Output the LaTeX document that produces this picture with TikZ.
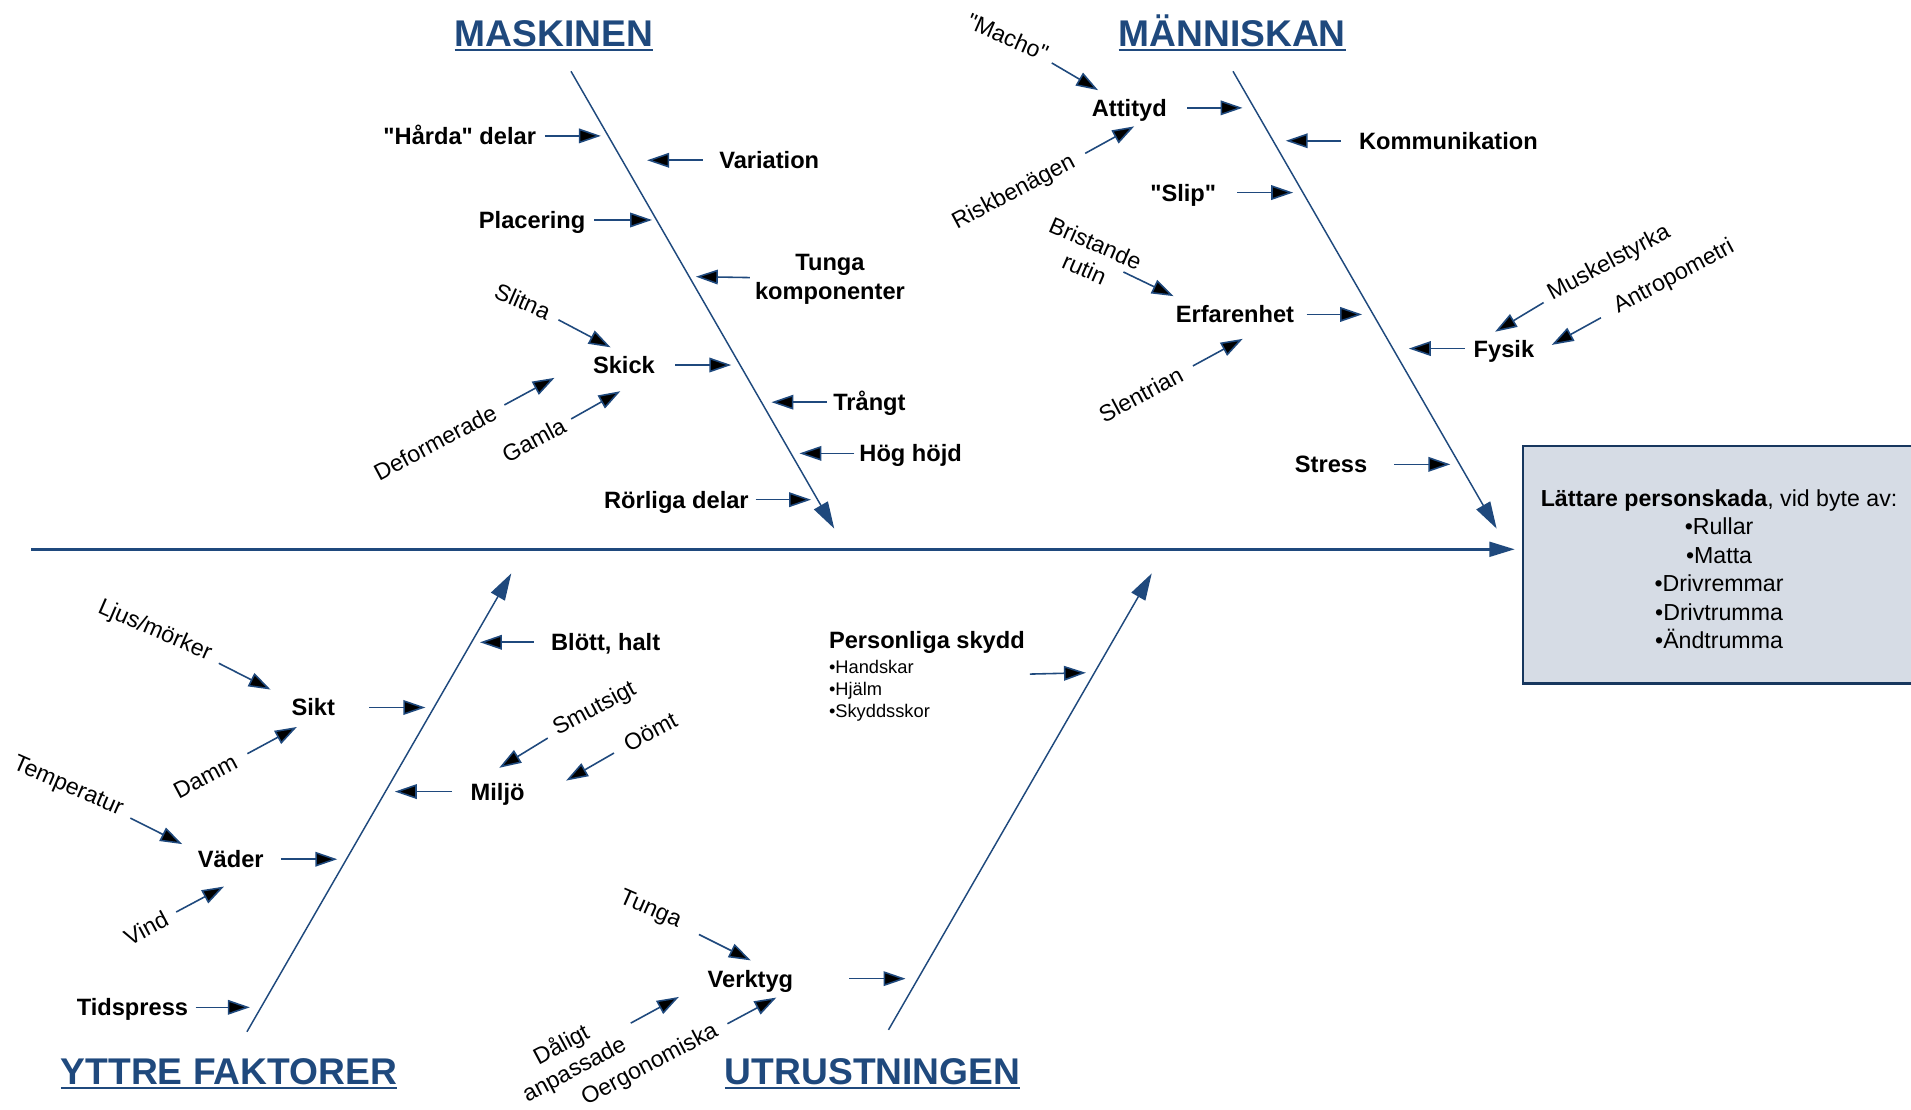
\documentclass[tikz,border=0pt]{standalone}
\usepackage{fontspec}
\setmainfont{Liberation Sans}[Ligatures=TeXOff]
\usetikzlibrary{arrows.meta}
\definecolor{fishblue}{RGB}{31,73,125}
\definecolor{effectfill}{RGB}{214,220,229}
\definecolor{effectline}{RGB}{23,55,94}
\newcommand{\catline}[1]{\setbox0\hbox{#1}\rlap{\rule[-4pt]{\wd0}{2pt}}\box0}
\tikzset{
  category/.style={font=\fontsize{30.5}{36}\selectfont\bfseries, text=fishblue, inner sep=0pt, anchor=base},
  causefont/.style={font=\fontsize{19.4}{24}\selectfont\bfseries, inner sep=0pt},
  cause/.style={causefont, text height=13.9pt, text depth=0pt},
  subcause/.style={font=\fontsize{19}{22.6}\selectfont, inner sep=1pt, align=center},
  rise/.style={subcause, rotate=28},
  fall/.style={subcause, rotate=-23.5},
  bone/.style={draw=fishblue, line width=1.2pt, -{Triangle[length=22pt,width=13pt]}},
  feed/.style={draw=fishblue, line width=1.3pt, -{Triangle[length=18pt,width=12pt]}},
  spine/.style={draw=fishblue, line width=2.6pt, -{Triangle[length=21pt,width=12pt]}},
  effect/.style={draw=effectline, fill=effectfill, line width=2pt, minimum width=322pt, minimum height=195pt, inner sep=0pt, align=center, font=\fontsize{19}{23.4}\selectfont}
}
\begin{document}
\begin{tikzpicture}[x=1pt,y=-1pt]
  \useasboundingbox (0,0) rectangle (1568,910);

  \node[category] (maskinen) at (454.4,38.1) {\catline{MASKINEN}};
  \node[category] (manniskan) at (1011,38.1) {\catline{MÄNNISKAN}};
  \node[category] (yttre) at (187.8,889.7) {\catline{YTTRE FAKTORER}};
  \node[category] (utrustning) at (716,889.7) {\catline{UTRUSTNINGEN}};

  \node[effect] (effect) at (1410.5,463.4) {\rule{0pt}{21pt}\textbf{Lättare personskada}, vid byte av:\\•Rullar\\•Matta\\•Drivremmar\\•Drivtrumma\\•Ändtrumma};

  \coordinate (tail) at (25.6,450.7);
  \draw[spine, shorten >=5.5pt] (tail) -- (tail -| effect.west);

  \coordinate (m0) at (468.5,58.5);
  \coordinate (m1) at (684.5,433.7);
  \coordinate (h0) at (1011.7,58.5);
  \coordinate (h1) at (1228,433.7);
  \coordinate (y0) at (202.6,846.6);
  \coordinate (y1) at (419.5,470.5);
  \coordinate (u0) at (729,845);
  \coordinate (u1) at (945,470.5);
  \draw[bone] (m0) -- (m1);
  \draw[bone] (h0) -- (h1);
  \draw[bone] (y0) -- (y1);
  \draw[bone] (u0) -- (u1);

  \node[cause, anchor=east] (harda) at (440,111.5) {"Hårda" delar};
  \node[cause, anchor=west] (variation) at (590,131.5) {Variation};
  \node[cause, anchor=east] (placering) at (480.5,180.5) {Placering};
  \node[causefont, align=center, anchor=north] (tunga) at (681,208) {Tunga\\komponenter};
  \node[cause, anchor=east] (skick) at (537.5,299.5) {Skick};
  \node[fall] (slitna) at (429,247) {Slitna};
  \node[rise] (deformerade) at (357,363) {Deformerade};
  \node[rise] (gamla) at (438,361) {Gamla};
  \node[cause, anchor=west] (trangt) at (683.5,330) {Trångt};
  \node[cause, anchor=west] (hoghojd) at (705,372) {Hög höjd};
  \node[cause, anchor=east] (rorliga) at (614.5,410) {Rörliga delar};

  \coordinate (hardaT) at (493,111.5);
  \coordinate (variationT) at (531,131.5);
  \coordinate (placeringT) at (535,180.5);
  \coordinate (tungaT) at (571,227);
  \coordinate (skickT) at (600,299.5);
  \coordinate (slitnaT) at (501,285);
  \coordinate (deformeradeT) at (455,310);
  \coordinate (gamlaT) at (509,321);
  \coordinate (trangtT) at (633,330);
  \coordinate (hoghojdT) at (656,372);
  \coordinate (rorligaT) at (665.5,410);

  \path[feed] (harda) edge [shorten <=7pt] (hardaT);
  \path[feed] (variation) edge [shorten <=13.5pt] (variationT);
  \path[feed] (placering) edge [shorten <=7pt] (placeringT);
  \path[feed] (tunga) edge [shorten <=4pt] (tungaT);
  \path[feed] (skick) edge [shorten <=16.5pt] (skickT);
  \path[feed] (slitna) edge [shorten <=8pt] (slitnaT);
  \path[feed] (deformerade) edge [shorten <=8pt] (deformeradeT);
  \path[feed] (gamla) edge [shorten <=6pt] (gamlaT);
  \path[feed] (trangt) edge [shorten <=5pt] (trangtT);
  \path[feed] (hoghojd) edge [shorten <=4pt] (hoghojdT);
  \path[feed] (rorliga) edge [shorten <=5.5pt] (rorligaT);

  \node[fall] (macho) at (827,30.5) {"Macho"};
  \node[cause, anchor=east] (attityd) at (957.5,88.5) {Attityd};
  \node[rise] (risk) at (832,158) {Riskbenägen};
  \node[cause, anchor=west] (komm) at (1115,115.5) {Kommunikation};
  \node[cause, anchor=east] (slip) at (998,158) {"Slip"};
  \node[fall] (brist) at (894.4,210) {Bristande\\rutin};
  \node[cause, anchor=east] (erfar) at (1062,258) {Erfarenhet};
  \node[rise] (slent) at (936,323.5) {Slentrian};
  \node[cause, anchor=west] (fysik) at (1209,286) {Fysik};
  \node[rise] (musk) at (1320.3,216) {Muskelstyrka};
  \node[rise] (antro) at (1373.6,227.6) {Antropometri};
  \node[cause, anchor=east] (stress) at (1122,381) {Stress};

  \coordinate (machoT) at (901,74);
  \coordinate (attitydT) at (1019.5,88.5);
  \coordinate (riskT) at (930.6,103.7);
  \coordinate (kommT) at (1055,115.5);
  \coordinate (slipT) at (1061,158);
  \coordinate (bristT) at (963,243);
  \coordinate (erfarT) at (1117.6,258);
  \coordinate (slentT) at (1019.7,278);
  \coordinate (fysikT) at (1156,286);
  \coordinate (muskT) at (1226.7,272.2);
  \coordinate (antroT) at (1273.2,283);
  \coordinate (stressT) at (1190,381);

  \path[feed] (macho) edge [shorten <=5pt] (machoT);
  \path[feed] (attityd) edge [shorten <=16.5pt] (attitydT);
  \path[feed] (risk) edge [shorten <=10pt] (riskT);
  \path[feed] (komm) edge [shorten <=15pt] (kommT);
  \path[feed] (slip) edge [shorten <=17pt] (slipT);
  \path[feed] (brist) edge [shorten <=-11pt] (bristT);
  \path[feed] (erfar) edge [shorten <=10pt] (erfarT);
  \path[feed] (slent) edge [shorten <=10pt] (slentT);
  \path[feed] (fysik) edge [shorten <=7pt] (fysikT);
  \path[feed] (musk) edge [shorten <=6pt] (muskT);
  \path[feed] (antro) edge [shorten <=13pt] (antroT);
  \path[feed] (stress) edge [shorten <=22pt] (stressT);

  \node[fall] (ljus) at (127,517.5) {Ljus/mörker};
  \node[cause, anchor=east] (sikt) at (275,580.5) {Sikt};
  \node[rise] (damm) at (168.5,637) {Damm};
  \node[fall] (temp) at (55.7,645.6) {Temperatur};
  \node[cause, anchor=east] (vader) at (216.5,705) {Väder};
  \node[rise] (vind) at (119.8,761.5) {Vind};
  \node[cause, anchor=east] (tids) at (154.5,826.5) {Tidspress};
  \node[cause, anchor=west] (blott) at (452,527) {Blött, halt};
  \node[rise] (smuts) at (488,582) {Smutsigt};
  \node[rise] (oomt) at (533.6,600.7) {Oömt};
  \node[cause, anchor=west] (miljo) at (386,649.5) {Miljö};

  \coordinate (ljusT) at (222,565.8);
  \coordinate (siktT) at (349,580.5);
  \coordinate (dammT) at (243.6,596.5);
  \coordinate (tempT) at (149.5,692.6);
  \coordinate (vaderT) at (276.7,705);
  \coordinate (vindT) at (183.8,727.4);
  \coordinate (tidsT) at (205,826.5);
  \coordinate (blottT) at (393.8,527);
  \coordinate (smutsT) at (409.6,630);
  \coordinate (oomtT) at (464.5,640.5);
  \coordinate (miljoT) at (324,649.5);

  \path[feed] (ljus) edge [shorten <=8pt] (ljusT);
  \path[feed] (sikt) edge [shorten <=28pt] (siktT);
  \path[feed] (damm) edge [shorten <=10pt] (dammT);
  \path[feed] (temp) edge [shorten <=8pt] (tempT);
  \path[feed] (vader) edge [shorten <=14pt] (vaderT);
  \path[feed] (vind) edge [shorten <=8pt] (vindT);
  \path[feed] (tids) edge [shorten <=6pt] (tidsT);
  \path[feed] (blott) edge [shorten <=14pt] (blottT);
  \path[feed] (smuts) edge [shorten <=7pt] (smutsT);
  \path[feed] (oomt) edge [shorten <=10pt] (oomtT);
  \path[feed] (miljo) edge [shorten <=15pt] (miljoT);

  \node[anchor=north west, align=left, inner sep=0pt, font=\fontsize{15}{18.3}\selectfont] (pers) at (680,518) {{\fontsize{19.4}{24}\selectfont\bfseries Personliga skydd}\\[1.7pt]•Handskar\\•Hjälm\\•Skyddsskor};
  \node[fall] (tungaU) at (533.4,746.7) {Tunga};
  \node[cause, anchor=east] (verktyg) at (651,803) {Verktyg};
  \node[rise] (daligt) at (466,867.5) {Dåligt\\anpassade};
  \node[rise] (oerg) at (533.4,874) {Oergonomiska};

  \coordinate (persT) at (891,552);
  \coordinate (tungaUT) at (616,788);
  \coordinate (verktygT) at (743,803);
  \coordinate (daligtT) at (557,818);
  \coordinate (oergT) at (637,818.5);

  \path[feed] (pers) edge [shorten <=4pt] (persT);
  \path[feed] (tungaU) edge [shorten <=17pt] (tungaUT);
  \path[feed] (verktyg) edge [shorten <=46pt] (verktygT);
  \path[feed] (daligt) edge [shorten <=11pt] (daligtT);
  \path[feed] (oerg) edge [shorten <=9pt] (oergT);
\end{tikzpicture}
\end{document}
